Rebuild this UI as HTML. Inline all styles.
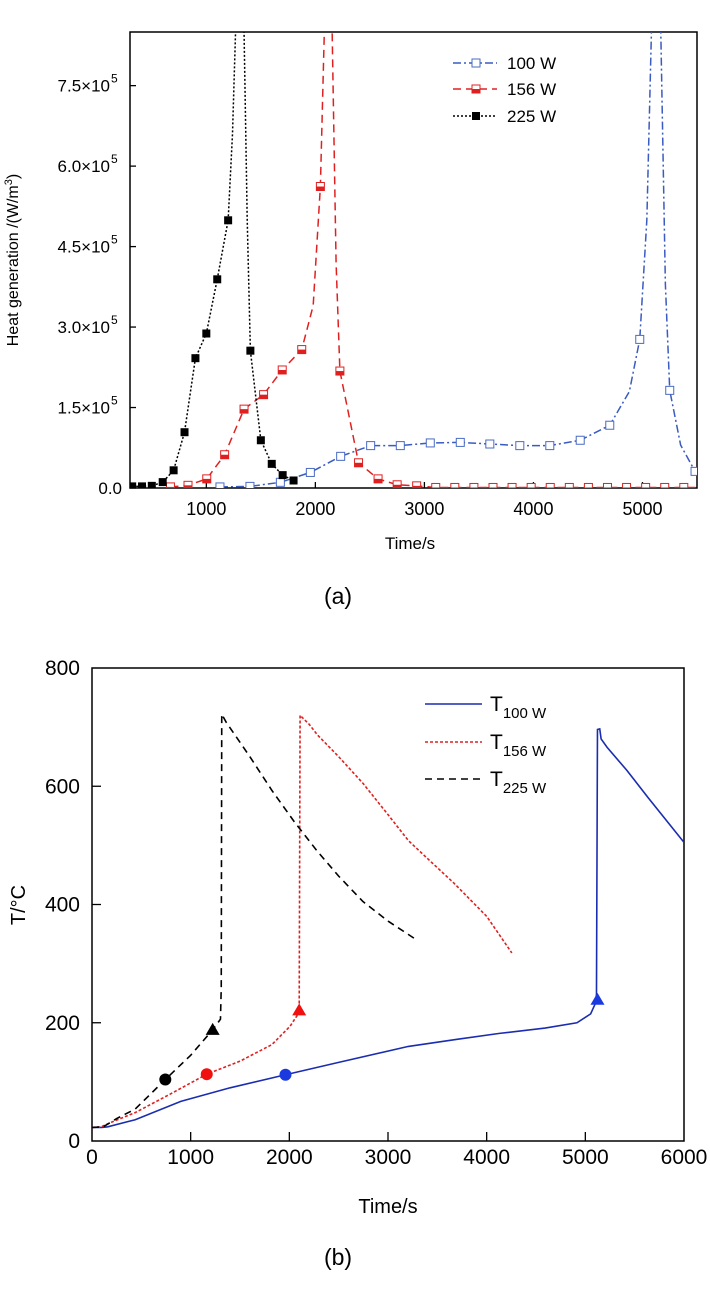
<!DOCTYPE html>
<html><head><meta charset="utf-8">
<style>
html,body{margin:0;padding:0;background:#fff;}
svg{display:block;font-family:"Liberation Sans",Arial,sans-serif;}
</style></head>
<body>
<svg id="fig" width="710" height="1294" viewBox="0 0 710 1294" xmlns="http://www.w3.org/2000/svg">
<defs>
<clipPath id="clipA"><rect x="130" y="32" width="567" height="456"/></clipPath>
<clipPath id="clipB"><rect x="92" y="668" width="592" height="473"/></clipPath>
</defs>
<g id="chartA"></g>
<g id="chartB"></g>
</svg>
<script>
// ---------- Chart (a) data ----------
const aXTicks = [1000, 2000, 3000, 4000, 5000];
const aYTicks = [0, 150000, 300000, 450000, 600000, 750000];
const aYTickLabels = ["0.0", "1.5×10", "3.0×10", "4.5×10", "6.0×10", "7.5×10"];
const aSeriesNames = ["100 W", "156 W", "225 W"];
// 225 W
const w225MarkT = [320, 410, 500, 600, 700, 800, 900, 1000, 1100, 1200, 1404, 1500, 1600, 1700, 1800];
const w225MarkV = [3000, 3000, 4000, 11000, 33000, 104000, 242000, 288000, 389000, 499000, 256000, 89000, 45000, 24000, 14000];
const w225LineT = [320, 410, 500, 600, 700, 800, 900, 1000, 1100, 1200, 1240, 1268, 1305, 1346, 1375, 1404, 1500, 1600, 1700, 1800];
const w225LineV = [3000, 3000, 4000, 11000, 33000, 104000, 242000, 288000, 389000, 499000, 660000, 850000, 1600000, 850000, 500000, 256000, 89000, 45000, 24000, 14000];
// 156 W
const w156MarkT = [671, 832, 1004, 1168, 1346, 1525, 1696, 1875, 2046, 2225, 2396, 2575, 2750, 2929, 3104, 3279, 3454, 3629, 3804, 3979, 4154, 4329, 4504, 4679, 4854, 5029, 5204, 5379];
const w156MarkV = [2000, 5000, 17000, 62000, 147000, 174000, 220000, 258000, 562000, 218000, 47000, 17000, 6000, 4000, 1000, 1000, 1000, 1000, 1000, 1000, 1000, 1000, 1000, 1000, 1000, 1000, 1000, 1000];
const w156LineT = [671, 832, 1004, 1168, 1346, 1525, 1696, 1875, 1980, 2046, 2082, 2118, 2154, 2190, 2225, 2396, 2575, 2750, 2929, 3104, 5500];
const w156LineV = [2000, 5000, 17000, 62000, 147000, 174000, 220000, 258000, 340000, 562000, 850000, 1600000, 850000, 420000, 218000, 47000, 17000, 6000, 4000, 1000, 1000];
// 100 W
const w100MarkT = [1125, 1400, 1679, 1954, 2232, 2507, 2779, 3054, 3329, 3600, 3875, 4150, 4429, 4700, 4975, 5250, 5482];
const w100MarkV = [2000, 3000, 10600, 29000, 59000, 79000, 79000, 84000, 85000, 82000, 79000, 79000, 89000, 117000, 277000, 182000, 31000];
const w100LineT = [1125, 1400, 1679, 1954, 2232, 2507, 2779, 3054, 3329, 3600, 3875, 4150, 4429, 4700, 4880, 4975, 5040, 5082, 5125, 5168, 5210, 5250, 5350, 5482];
const w100LineV = [2000, 3000, 10600, 29000, 59000, 79000, 79000, 84000, 85000, 82000, 79000, 79000, 89000, 117000, 180000, 277000, 500000, 850000, 1600000, 850000, 380000, 182000, 80000, 31000];

// ---------- Chart (b) data ----------
const bXTicks = [0, 1000, 2000, 3000, 4000, 5000, 6000];
const bYTicks = [0, 200, 400, 600, 800];
const t100 = [0, 100, 160, 438, 900, 1400, 1961, 2500, 3207, 3700, 4130, 4592, 4915, 5054, 5100, 5113, 5123, 5146, 5160, 5220, 5420, 5640, 6000];
const v100 = [23, 23, 24, 36, 67, 90, 112, 133, 160, 172, 182, 191, 200, 215, 232, 248, 696, 697, 680, 666, 627, 580, 505];
const t156 = [0, 92, 200, 438, 800, 1163, 1500, 1823, 2007, 2090, 2100, 2109, 2200, 2284, 2500, 2746, 3000, 3207, 3450, 3669, 4000, 4255];
const v156 = [23, 24, 32, 48, 80, 113, 135, 163, 194, 215, 224, 720, 705, 687, 650, 605, 552, 508, 470, 436, 380, 318];
const t225 = [0, 115, 250, 438, 743, 1000, 1223, 1302, 1310, 1315, 1361, 1600, 1823, 2050, 2284, 2500, 2746, 3000, 3300];
const v225 = [23, 24, 38, 54, 104, 145, 188, 206, 260, 722, 708, 650, 593, 540, 490, 448, 405, 372, 339];
const bMarkCircleT = [1961, 1163, 743];
const bMarkCircleV = [112, 113, 104];
const bMarkTriT = [5123, 2100, 1223];
const bMarkTriV = [239, 221, 188];
const bNames = ["100 W", "156 W", "225 W"];

const NS = "http://www.w3.org/2000/svg";
function mk(tag, attrs, parent) {
  const e = document.createElementNS(NS, tag);
  for (const k in attrs) e.setAttribute(k, attrs[k]);
  parent.appendChild(e);
  return e;
}

// ---- Chart A ----
const gA = document.getElementById('chartA');
const aL = 130, aR = 697, aT = 32, aB = 488, aX0 = 300, aX1 = 5500, aY1 = 850000;
const ax = t => aL + (t - aX0) / (aX1 - aX0) * (aR - aL);
const ay = v => aB - v / aY1 * (aB - aT);

const frameA = mk('rect', {x: aL, y: aT, width: aR - aL, height: aB - aT, fill: 'none', stroke: '#000', 'stroke-width': 1.5}, gA);



aXTicks.forEach(t => {
  const tk = mk('line', {x1: ax(t), x2: ax(t), y1: aB, y2: aB - 6, stroke: '#000', 'stroke-width': 1.3}, gA);
  
  
  const lb = mk('text', {x: ax(t), y: 515, 'font-size': 18, 'text-anchor': 'middle'}, gA);
  lb.textContent = t;
  
  
});
aYTicks.forEach((v, i) => {
  const tk = mk('line', {x1: aL, x2: aL + 6, y1: ay(v), y2: ay(v), stroke: '#000', 'stroke-width': 1.3}, gA);
  
  
  const lb = mk('text', {x: v === 0 ? 122 : 110, y: ay(v) + 6, 'font-size': 17, 'text-anchor': 'end'}, gA);
  lb.textContent = aYTickLabels[i];
  
  
  if (v !== 0) {
    const sp = mk('text', {x: 111, y: ay(v) - 3, 'font-size': 12, 'text-anchor': 'start'}, gA);
    sp.textContent = '5';
    
    
  }
});
const ylA = mk('text', {x: 0, y: 0, 'font-size': 16, 'text-anchor': 'middle', transform: 'translate(18,260) rotate(-90)'}, gA);
ylA.innerHTML = 'Heat generation /(W/m<tspan dy="-6" font-size="11">3</tspan><tspan dy="6">)</tspan>';


const xlA = mk('text', {x: 410, y: 549, 'font-size': 17, 'text-anchor': 'middle'}, gA);
xlA.textContent = 'Time/s';


const capA = mk('text', {x: 338, y: 604, 'font-size': 23, 'text-anchor': 'middle'}, gA);
capA.textContent = '(a)';



const clipA = mk('g', {'clip-path': 'url(#clipA)'}, gA);



function polyA(T, V, color, dash, name) {
  const p = mk('polyline', {points: T.map((t, i) => ax(t) + ',' + ay(V[i])).join(' '), fill: 'none', stroke: color, 'stroke-width': 1.5, 'stroke-dasharray': dash}, clipA);
  
  
}
function markerA(x, y, kind, parent) {
  const s = 8;
  if (kind === 'open') {
    const r = mk('rect', {x: x - s / 2, y: y - s / 2, width: s, height: s, fill: '#fff', stroke: '#4a6bc4', 'stroke-width': 1}, parent);
    
    
  } else if (kind === 'half') {
    const r = mk('rect', {x: x - s / 2, y: y - s / 2, width: s, height: s, fill: '#fff', stroke: '#e02020', 'stroke-width': 1}, parent);
    
    
    const h = mk('rect', {x: x - s / 2, y: y, width: s, height: s / 2, fill: '#e02020'}, parent);
    
    
  } else {
    const r = mk('rect', {x: x - s / 2, y: y - s / 2, width: s, height: s, fill: '#000'}, parent);
    
    
  }
}
polyA(w100LineT, w100LineV, '#3a5bbf', '8,3,2,3', 'line-100w');
polyA(w156LineT, w156LineV, '#e02020', '8,5', 'line-156w');
polyA(w225LineT, w225LineV, '#000', '2,2', 'line-225w');
w100MarkT.forEach((t, i) => markerA(ax(t), ay(w100MarkV[i]), 'open', clipA));
w156MarkT.forEach((t, i) => markerA(ax(t), ay(w156MarkV[i]), 'half', clipA));
w225MarkT.forEach((t, i) => markerA(ax(t), ay(w225MarkV[i]), 'full', clipA));

// legend A
const legA = mk('g', {}, gA);


const legStyles = [['#3a5bbf', '8,3,2,3', 'open'], ['#e02020', '8,5', 'half'], ['#000', '2,2', 'full']];
[63, 89, 116].forEach((y, i) => {
  const l = mk('line', {x1: 453, x2: 497, y1: y, y2: y, stroke: legStyles[i][0], 'stroke-width': 1.5, 'stroke-dasharray': legStyles[i][1]}, legA);
  
  
  markerA(476, y, legStyles[i][2], legA);
  const tx = mk('text', {x: 507, y: y + 6, 'font-size': 17}, legA);
  tx.textContent = aSeriesNames[i];
  
  
});

// ---- Chart B ----
const gB = document.getElementById('chartB');
const bL = 92, bR = 684, bT = 668, bB = 1141, bX1 = 6000, bY1 = 800;
const bx = t => bL + t / bX1 * (bR - bL);
const by = v => bB - v / bY1 * (bB - bT);

const frameB = mk('rect', {x: bL, y: bT, width: bR - bL, height: bB - bT, fill: 'none', stroke: '#000', 'stroke-width': 1.5}, gB);


bXTicks.forEach(t => {
  if (t > 0 && t < 6000) {
    const tk = mk('line', {x1: bx(t), x2: bx(t), y1: bB, y2: bB - 9, stroke: '#000', 'stroke-width': 1.3}, gB);
    
    
  }
  const lb = mk('text', {x: bx(t), y: 1164, 'font-size': 21, 'text-anchor': 'middle'}, gB);
  lb.textContent = t;
  
  
});
bYTicks.forEach(v => {
  if (v > 0 && v < 800) {
    const tk = mk('line', {x1: bL, x2: bL + 9, y1: by(v), y2: by(v), stroke: '#000', 'stroke-width': 1.3}, gB);
    
    
  }
  const lb = mk('text', {x: 80, y: by(v) + 7, 'font-size': 21, 'text-anchor': 'end'}, gB);
  lb.textContent = v;
  
  
});
const ylB = mk('text', {x: 0, y: 0, 'font-size': 20, 'text-anchor': 'middle', transform: 'translate(25,905) rotate(-90)'}, gB);
ylB.textContent = 'T/°C';


const xlB = mk('text', {x: 388, y: 1213, 'font-size': 20, 'text-anchor': 'middle'}, gB);
xlB.textContent = 'Time/s';


const capB = mk('text', {x: 338, y: 1265, 'font-size': 23, 'text-anchor': 'middle'}, gB);
capB.textContent = '(b)';



const clipB = mk('g', {'clip-path': 'url(#clipB)'}, gB);


const bStyles = [['#1a2db0', 'none'], ['#e02020', '3,2'], ['#000', '7,5']];
[[t100, v100, 'line-t100w'], [t156, v156, 'line-t156w'], [t225, v225, 'line-t225w']].forEach((s, i) => {
  const p = mk('polyline', {points: s[0].map((t, j) => bx(t) + ',' + by(s[1][j])).join(' '), fill: 'none', stroke: bStyles[i][0], 'stroke-width': 1.6, 'stroke-dasharray': bStyles[i][1]}, clipB);
  
  
});
const mColors = ['#1a3ae0', '#f01010', '#000'];
bMarkCircleT.forEach((t, i) => {
  const c = mk('circle', {cx: bx(t), cy: by(bMarkCircleV[i]), r: 6, fill: mColors[i]}, gB);
  
  
});
bMarkTriT.forEach((t, i) => {
  const x = bx(t), y = by(bMarkTriV[i]);
  const p = mk('polygon', {points: `${x},${y - 7} ${x - 7},${y + 5} ${x + 7},${y + 5}`, fill: mColors[i]}, gB);
  
  
});
const legB = mk('g', {}, gB);


[704, 742, 779].forEach((y, i) => {
  const l = mk('line', {x1: 425, x2: 482, y1: y, y2: y, stroke: bStyles[i][0], 'stroke-width': 1.6, 'stroke-dasharray': bStyles[i][1]}, legB);
  
  
  const tx = mk('text', {x: 490, y: y + 7, 'font-size': 21}, legB);
  tx.innerHTML = 'T<tspan dy="7" font-size="15">' + bNames[i] + '</tspan>';
  
  
});
</script>
</body></html>
